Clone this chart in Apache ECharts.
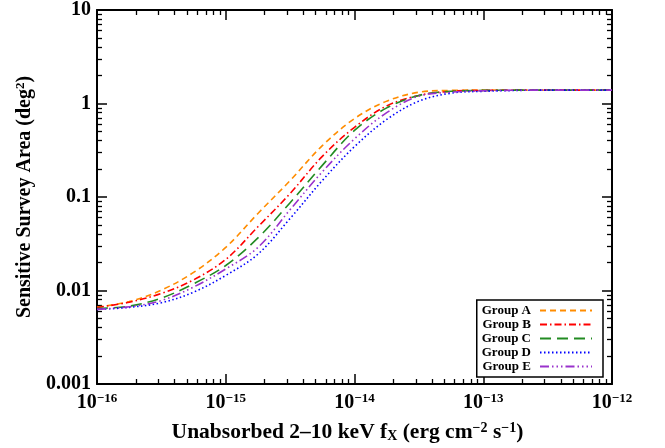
<!DOCTYPE html>
<html><head><meta charset="utf-8">
<script src="https://cdn.jsdelivr.net/npm/echarts@6/dist/echarts.min.js"></script>
<style>html,body{margin:0;padding:0;background:#fff}#c{width:665px;height:448px}</style>
</head><body><div id="c"></div>
<script>
// ---- data ----
const fluxExp = [-16, -15.75, -15.5, -15.25, -15, -14.75, -14.5, -14.25, -14, -13.75, -13.5, -13.25, -13, -12.5, -12];
const groupA = [0.00664, 0.0076, 0.0101, 0.0156, 0.0289, 0.0667, 0.150, 0.354, 0.690, 1.06, 1.32, 1.38, 1.39, 1.39, 1.39];
const groupB = [0.00659, 0.0075, 0.0093, 0.0130, 0.0215, 0.0480, 0.109, 0.272, 0.557, 0.942, 1.22, 1.35, 1.38, 1.39, 1.39];
const groupC = [0.00643, 0.0068, 0.0083, 0.0118, 0.0185, 0.0365, 0.0870, 0.218, 0.515, 0.897, 1.22, 1.35, 1.38, 1.39, 1.39];
const groupD = [0.00628, 0.0066, 0.0074, 0.0096, 0.0145, 0.0245, 0.059, 0.150, 0.346, 0.675, 1.06, 1.29, 1.35, 1.39, 1.39];
const groupE = [0.00628, 0.0067, 0.0078, 0.0109, 0.0170, 0.0289, 0.0733, 0.186, 0.419, 0.798, 1.20, 1.32, 1.37, 1.39, 1.39];
const seriesNames = ['Group A', 'Group B', 'Group C', 'Group D', 'Group E'];
const xTickExponents = [-16, -15, -14, -13, -12];
const yTickLabels = ['0.001', '0.01', '0.1', '1', '10'];
const xTitle = 'Unabsorbed 2–10 keV f_X (erg cm^−2 s^−1)';
const yTitle = 'Sensitive Survey Area (deg^2)';

// ---- styling ----
const FONT = "'Liberation Serif','Times New Roman',serif";
const colors = ['#ff8c00', '#ff0000', '#228b22', '#0000ff', '#9932cc'];
const dashes = [[6, 4], [7, 3, 1.5, 3], [11, 6], [1.5, 2.5], [9, 3, 1.5, 3, 1.5, 3, 1.5, 3]];
const values = [groupA, groupB, groupC, groupD, groupE];

const XMIN = 1e-16, XMAX = 1e-12, YMIN = 1e-3, YMAX = 10;

function minorVals(lo, hi) {
  const out = [];
  for (let e = lo; e < hi; e++) for (let k = 2; k <= 9; k++) out.push(k * Math.pow(10, e));
  return out;
}
const minorX = minorVals(-16, -12);
const minorY = minorVals(-3, 1);

function mkRich(size) {
  return {
    t: { fontFamily: FONT, fontWeight: 'bold', fontSize: size, color: '#000' },
    sup: { fontFamily: FONT, fontWeight: 'bold', fontSize: Math.round(size * 0.64), color: '#000', verticalAlign: 'top', padding: [0, 0, 8, 0] },
    sub: { fontFamily: FONT, fontWeight: 'bold', fontSize: Math.round(size * 0.66), color: '#000', verticalAlign: 'bottom', padding: [6, 0, 0, 0] }
  };
}
function toRich(s) {
  let out = '';
  const re = /([\^_])([^\s()]+)/g;
  let last = 0, m;
  while ((m = re.exec(s))) {
    if (m.index > last) out += '{t|' + s.slice(last, m.index) + '}';
    out += (m[1] === '^' ? '{sup|' : '{sub|') + m[2] + '}';
    last = re.lastIndex;
  }
  if (last < s.length) out += '{t|' + s.slice(last) + '}';
  return out;
}

const labRich = {
  n: { fontFamily: FONT, fontWeight: 'bold', fontSize: 20, color: '#000' },
  e: { fontFamily: FONT, fontWeight: 'bold', fontSize: 13, color: '#000', verticalAlign: 'top', padding: [0, 0, 8, 0] }
};

const lineW = 2;
function xAx(pos, minor, main) {
  return {
    type: 'log', logBase: 10, min: XMIN, max: XMAX, position: pos, gridIndex: 0,
    axisLine: { show: !minor, onZero: false, lineStyle: { color: '#000', width: lineW } },
    axisTick: minor ? { show: true, inside: true, length: 5, customValues: minorX, lineStyle: { color: '#000', width: 1.3 } }
                    : { show: true, inside: true, length: 10, lineStyle: { color: '#000', width: 1.5 } },
    minorTick: { show: false },
    splitLine: { show: false },
    axisLabel: main ? {
      show: true, margin: 8, rich: labRich,
      formatter: v => {
        const e = Math.round(Math.log10(v));
        if (!xTickExponents.includes(e)) return '';
        return '{n|10}{e|−' + Math.abs(e) + '}';
      }
    } : { show: false },
    name: main ? toRich(xTitle) : '',
    nameLocation: 'middle', nameGap: 37,
    nameTextStyle: { rich: mkRich(21.5), padding: [0, 14, 0, 0] }
  };
}
function yAx(pos, minor, main) {
  return {
    type: 'log', logBase: 10, min: YMIN, max: YMAX, position: pos, gridIndex: 0,
    axisLine: { show: !minor, onZero: false, lineStyle: { color: '#000', width: lineW } },
    axisTick: minor ? { show: true, inside: true, length: 5, customValues: minorY, lineStyle: { color: '#000', width: 1.3 } }
                    : { show: true, inside: true, length: 10, lineStyle: { color: '#000', width: 1.5 } },
    minorTick: { show: false },
    splitLine: { show: false },
    axisLabel: main ? {
      show: true, margin: 6,
      fontFamily: FONT, fontWeight: 'bold', fontSize: 20, color: '#000',
      formatter: v => {
        const e = Math.round(Math.log10(v));
        const idx = e + 3;
        return yTickLabels[idx] !== undefined ? yTickLabels[idx] : '';
      }
    } : { show: false },
    name: main ? toRich(yTitle) : '',
    nameLocation: 'middle', nameGap: 62,
    nameTextStyle: { rich: mkRich(20) }
  };
}

const option = {
  backgroundColor: '#fff',
  animation: false,
  grid: { left: 97, right: 53, top: 4, bottom: 58, containLabel: false },
  xAxis: [xAx('bottom', false, true), xAx('bottom', true, false), xAx('top', false, false), xAx('top', true, false)],
  yAxis: [yAx('left', false, true), yAx('left', true, false), yAx('right', false, false), yAx('right', true, false)],
  legend: {
    orient: 'vertical', right: 62, top: 300, align: 'right',
    backgroundColor: '#fff', borderColor: '#000', borderWidth: 1.5, borderRadius: 0,
    padding: [4, 10, 4, 5], itemGap: 1, itemWidth: 52, itemHeight: 10,
    itemStyle: { opacity: 0 },
    textStyle: { fontFamily: FONT, fontWeight: 'bold', fontSize: 13, lineHeight: 13, color: '#000', padding: [0, 4, 0, 0] },
    data: seriesNames
  },
  series: seriesNames.map((n, i) => ({
    name: n, type: 'line', xAxisIndex: 0, yAxisIndex: 0,
    smooth: 0.35, symbol: 'none', clip: true,
    lineStyle: { color: colors[i], width: 1.6, type: dashes[i] },
    itemStyle: { color: colors[i] },
    data: fluxExp.map((e, j) => [Math.pow(10, e), values[i][j]])
  }))
};
const chart = echarts.init(document.getElementById('c'), null, { renderer: 'canvas' });
chart.setOption(option);
</script></body></html>
